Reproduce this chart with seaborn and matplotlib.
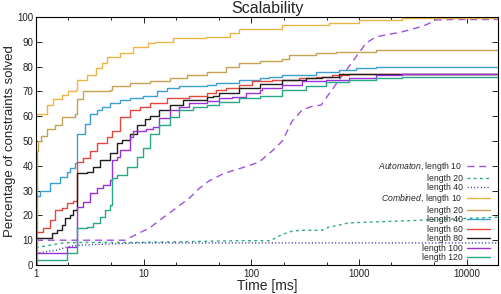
import numpy as np
import pandas as pd
import matplotlib
matplotlib.use("Agg")
import matplotlib.pyplot as plt
import seaborn as sns
from matplotlib.ticker import LogLocator, FixedLocator, NullFormatter

# Time in ms, percentage of constraints solved
auto10_t = [1, 6.67, 7.42, 9.18, 11.4, 14.0, 17.4, 21.5, 26.6, 33.0, 40.8, 56, 86.6, 118, 156,
            194, 239, 296, 366, 446, 526, 651, 805, 997, 1160, 1440, 1890, 2500, 3360, 4170,
            5150, 7250, 20000]
auto10_p = [10, 10, 11, 13, 15, 18, 21, 24, 27, 31, 34, 37, 39.5, 41.5, 46,
            50, 58, 62.5, 64, 64.5, 69, 74.6, 80, 85.5, 89.5, 92, 93, 94, 95.5, 96.8,
            98.8, 99, 99]

auto20_t = [1, 1.35, 1.8, 2.4, 9.2, 77, 150, 181, 225, 278, 450, 526, 651, 805, 3000, 20000]
auto20_p = [7, 8, 8.9, 9.1, 9.1, 9.8, 9.8, 11.7, 13.4, 14, 14, 15.3, 16.1, 17, 17.9, 19.3]

auto40_t = [1, 1.56, 1.94, 2.55, 5, 9.2, 20000]
auto40_p = [4.8, 6, 7.3, 8, 8.5, 8.9, 8.9]

comb10_t = [1, 1.26, 1.45, 1.75, 2.0, 2.35, 2.42, 3.0, 3.6, 4.1, 4.6, 6.0, 8.0, 11, 12.6,
            18.7, 38, 63, 77, 119, 194, 526, 997, 2500, 20000]
comb10_p = [61, 64.5, 67, 68.5, 70, 70.5, 74.6, 76.6, 79.4, 81.5, 84, 85.5, 88, 89.5, 90,
            91.5, 92, 93.5, 95, 95.3, 96.8, 97.7, 98.8, 99.6, 99.6]

comb20_t = [1, 1.02, 1.05, 1.12, 1.26, 1.5, 1.75, 2.3, 2.42, 2.72, 4.84, 5.05, 7.42, 11.4,
            17.4, 25, 38.4, 58.7, 77.4, 119, 194, 225, 400, 610, 1440, 20000]
comb20_p = [0, 46, 50, 52, 55, 56.5, 59.7, 61, 67, 70, 70.5, 72, 73.4, 74.3,
            75.4, 76.6, 78, 80, 81.5, 82.3, 83, 84.7, 85.6, 86, 86.8, 87]

comb40_t = [1, 1.1, 1.35, 1.67, 1.94, 2.06, 2.3, 2.42, 2.84, 3.16, 3.67, 4.08, 4.84, 6.0,
            7.42, 9.79, 13.2, 16.3, 21.5, 38.4, 47.3, 77.4, 119, 147, 194, 400, 651, 940,
            1440, 20000]
comb40_p = [28, 30, 33, 35.5, 37.5, 39, 41, 53, 57, 61, 62.5, 63.7, 65.3, 66.5,
            67.3, 68, 70, 71.3, 72, 72.6, 73.4, 74.6, 75.4, 76, 76.6, 78, 78.6, 79.4,
            79.8, 80]

comb60_t = [1, 1.16, 1.35, 1.5, 1.74, 1.94, 2.2, 2.38, 2.42, 2.72, 3.16, 3.67, 4.54, 5.05,
            6.0, 7.42, 9.18, 11.4, 16.3, 26.6, 38.4, 47.3, 58.7, 77.4, 102, 156, 278, 400,
            562, 805, 20000]
comb60_p = [13.3, 15, 18, 22, 23, 25, 26, 29, 41.5, 43, 46, 49, 51.6, 54,
            59.7, 62.5, 63.7, 65.3, 67.3, 68, 69.3, 70.6, 71.3, 72.6, 74, 74.6, 75.4, 76,
            76.6, 77, 77]

comb80_t = [1, 1.41, 1.56, 1.74, 1.86, 2.06, 2.2, 2.38, 2.42, 2.96, 3.37, 3.91, 4.84, 5.62,
            6.24, 7.42, 8.6, 10.2, 11.4, 14.0, 17.4, 23, 38.4, 43.7, 50.4, 77.4, 119, 194,
            323, 455, 651, 20000]
comb80_p = [11, 13, 14, 16, 19, 20, 22, 23.4, 37, 37.5, 39.5, 42.3, 45, 49,
            50.4, 53, 56.5, 59, 60, 62.5, 64.5, 66.5, 67.7, 68, 69.5, 71.4, 73, 74.6,
            75.5, 76, 77, 77]

comb100_t = [1, 1.94, 2.42, 2.72, 3.16, 3.67, 4.17, 4.84, 5.05, 5.62, 6.0, 7.42, 7.9, 10.6,
             12.1, 14.0, 17.4, 21.5, 26.6, 38.4, 50.4, 66.6, 89.9, 119, 126, 194, 296, 496,
             805, 1440, 2500, 20000]
comb100_p = [5, 7.4, 23.4, 25.4, 29, 31, 32.3, 34.3, 42.3, 43.5, 46.4, 51.6, 54, 55,
             55.6, 59.3, 62.5, 63.7, 65.3, 66.3, 67.3, 67.7, 69.3, 70.6, 71.4, 72.6, 74, 74.6,
             75.4, 76.6, 77.2, 77.2]

comb120_t = [1, 1.94, 2.42, 2.96, 3.37, 3.91, 4.35, 4.84, 5.05, 5.62, 6.95, 8.6, 9.79, 11.4,
             14.0, 17.4, 21.5, 28.4, 38.4, 50.4, 77.4, 119, 194, 323, 496, 805, 1440, 2500,
             20000]
comb120_p = [2, 4.7, 15, 15.4, 17, 19.5, 22, 24, 35, 36.3, 39.5, 43.5, 47, 53,
             56.5, 59.7, 62.5, 63.7, 64.5, 65.7, 67.3, 68, 70.6, 72, 73.6, 74.6, 75.4, 76,
             76]

series = [
    (r"$\mathit{Automaton}$, length 10", auto10_t, auto10_p, "#a050e0", (0, (5, 3.5)), None),
    ("length 20", auto20_t, auto20_p, "#2aa88a", (0, (2, 2.5)), None),
    ("length 40", auto40_t, auto40_p, "#3c3c9c", (0, (0.8, 1.6)), None),
    (r"$\mathit{Combined}$, length 10", comb10_t, comb10_p, "#eeb445", "-", "steps-post"),
    ("length 20", comb20_t, comb20_p, "#c4a352", "-", "steps-post"),
    ("length 40", comb40_t, comb40_p, "#3c9fd2", "-", "steps-post"),
    ("length 60", comb60_t, comb60_p, "#e6463c", "-", "steps-post"),
    ("length 80", comb80_t, comb80_p, "#1e1e1e", "-", "steps-post"),
    ("length 100", comb100_t, comb100_p, "#9a30dc", "-", "steps-post"),
    ("length 120", comb120_t, comb120_p, "#26a888", "-", "steps-post"),
]

sns.set_theme(style="ticks")
plt.rcParams["font.family"] = ["Liberation Sans", "DejaVu Sans"]
plt.rcParams["mathtext.fontset"] = "custom"
plt.rcParams["mathtext.it"] = "Liberation Sans:italic"
plt.rcParams["mathtext.rm"] = "Liberation Sans"

fig = plt.figure(figsize=(5.01, 2.94), dpi=100)
ax = fig.add_axes([0.0719, 0.0986, 0.922, 0.8435])
ax.set_xscale("log")

for label, t, p, color, ls, ds in series:
    df = pd.DataFrame({"t": t, "p": p})
    kw = dict(drawstyle=ds) if ds else {}
    sns.lineplot(data=df, x="t", y="p", ax=ax, color=color, linestyle=ls,
                 linewidth=1.0, label=label, legend=False, estimator=None,
                 sort=False, errorbar=None, **kw)

ax.set_xlim(1, 19500)
ax.set_ylim(0, 100)
ax.yaxis.set_major_locator(FixedLocator(np.arange(0, 101, 10)))
ax.xaxis.set_major_locator(FixedLocator([1, 10, 100, 1000, 10000]))
ax.xaxis.set_major_formatter(matplotlib.ticker.FuncFormatter(lambda v, _: f"{v:g}"))
ax.xaxis.set_minor_locator(LogLocator(base=10, subs=(2, 5), numticks=20))
ax.xaxis.set_minor_formatter(NullFormatter())

ax.tick_params(which="both", direction="in", top=True, right=True, labelsize=7,
               color="black", labelcolor="#222222", width=0.6)
ax.tick_params(which="major", length=4)
ax.tick_params(axis="y", which="major", pad=2)
ax.tick_params(axis="x", which="major", pad=3)
ax.tick_params(which="minor", length=2.5)
for s in ax.spines.values():
    s.set_color("black")
    s.set_linewidth(0.8)

ax.set_title("Scalability", fontsize=11.5, pad=3)
ax.set_xlabel("Time [ms]", fontsize=10, labelpad=0)
ax.set_ylabel("Percentage of constraints solved", fontsize=9.5, labelpad=1)

ax.legend(loc="lower right", bbox_to_anchor=(0.983, 0.012), frameon=False,
          markerfirst=False, fontsize=6.2, labelspacing=0.05, handlelength=2.7,
          handletextpad=0.5, borderpad=0, borderaxespad=0)

fig.savefig("out.png", dpi=100)
